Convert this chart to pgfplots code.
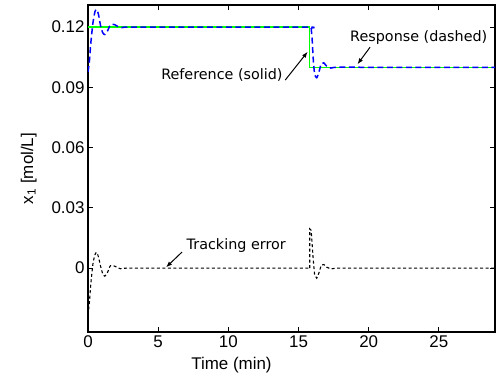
\documentclass[border=0pt]{standalone}
\usepackage{fontspec}
\setmainfont{Liberation Sans}
\newfontfamily\dejavu{DejaVu Sans}
\usepackage{pgfplots}
\pgfplotsset{compat=1.18}
\usetikzlibrary{arrows.meta}

\begin{document}
\begin{tikzpicture}
\path[use as bounding box] (0,0) rectangle (501bp,375bp);
\begin{axis}[
  at={(88bp,43bp)}, anchor=south west,
  scale only axis, width=407bp, height=327bp,
  xmin=0, xmax=29, ymin=-0.0318, ymax=0.131,
  xtick={0,5,10,15,20,25}, ytick={0,0.03,0.06,0.09,0.12},
  yticklabels={0,0.03,0.06,0.09,0.12},
  scaled y ticks=false,
  tick align=inside, major tick length=5bp,
  axis line style={line width=1.1bp},
  every tick/.style={black, line width=0.8bp},
  tick label style={font=\fontsize{17}{20}\selectfont},
  label style={font=\fontsize{17}{20}\selectfont},
  /pgf/number format/assume math mode=true,
  xlabel={Time (min)}, ylabel={x\textsubscript{1} [mol/L]},
  xlabel style={at={(axis description cs:0.3526,-0.1162)}, anchor=base},
  ylabel style={at={(axis description cs:-0.1351,0.5)}, anchor=base},
]
% Reference (solid, green)
\addplot[color={rgb,255:red,0;green,255;blue,0}, line width=1.5bp] coordinates {
(0,0.12) (15.8,0.12) (15.8,0.10) (29,0.10)};
% Response (dashed, blue)
\addplot[color=blue, line width=1.5bp, dash pattern=on 6bp off 3.5bp, smooth, tension=0.4] coordinates {
(0,0.0976) (0.1,0.103) (0.2,0.112) (0.35,0.122) (0.5,0.1278) (0.62,0.1288) (0.75,0.1262)
(0.9,0.1205) (1.05,0.1172) (1.2,0.1163) (1.4,0.1182) (1.6,0.1212) (1.9,0.1212)
(2.3,0.1197) (2.8,0.12) (6,0.12) (10,0.12) (15.8,0.12) (15.9,0.1195)};
\addplot[color=blue, line width=1.5bp, dash pattern=on 6bp off 3.5bp, smooth, tension=0.4] coordinates {
(15.9,0.1195) (15.97,0.114) (16.05,0.104) (16.15,0.0965) (16.3,0.0948) (16.45,0.0975)
(16.62,0.1018) (16.8,0.1022) (17.0,0.1006) (17.3,0.0996) (17.7,0.1) (20,0.1) (24,0.1) (29,0.1)};
% Tracking error (dashed, black)
\addplot[color=black, line width=1.1bp, dash pattern=on 3bp off 2.5bp, smooth, tension=0.4] coordinates {
(0,-0.0234) (0.1,-0.017) (0.2,-0.008) (0.35,0.002) (0.5,0.0068) (0.62,0.0078) (0.75,0.0055)
(0.9,0.0008) (1.05,-0.0028) (1.2,-0.004) (1.4,-0.002) (1.6,0.0012) (1.9,0.001)
(2.3,-0.0003) (2.8,0) (6,0) (10,0) (15.8,0)};
\addplot[color=black, line width=1.1bp, dash pattern=on 3bp off 2.5bp] coordinates {
(15.8,0) (15.8,0.0195) (15.9,0.0188) (15.97,0.012) (16.05,0.004) (16.15,-0.0035) (16.3,-0.005)
(16.45,-0.0025) (16.62,0.0015) (16.8,0.0018) (17.0,0.0005) (17.3,-0.0004) (17.7,0) (22,0) (29,0)};
% annotations
\node[anchor=east, font=\dejavu\fontsize{14.4}{17}\selectfont, inner sep=1bp] at (axis cs:13.95,0.0961) {Reference (solid)};
\draw[line width=1bp, -{Latex[length=6bp,width=4.5bp]}] (axis cs:14.05,0.0936) -- (axis cs:15.65,0.1077);
\node[anchor=west, font=\dejavu\fontsize{14.4}{17}\selectfont, inner sep=1bp] at (axis cs:18.6,0.1150) {Response (dashed)};
\draw[line width=1bp, -{Latex[length=6bp,width=4.5bp]}] (axis cs:20.1,0.1100) -- (axis cs:19.2,0.1015);
\node[anchor=west, font=\dejavu\fontsize{14.4}{17}\selectfont, inner sep=1bp] at (axis cs:6.95,0.0114) {Tracking error};
\draw[line width=1bp, -{Latex[length=6bp,width=4.5bp]}] (axis cs:6.7,0.0080) -- (axis cs:5.56,0.0004);
\end{axis}
\end{tikzpicture}
\end{document}
